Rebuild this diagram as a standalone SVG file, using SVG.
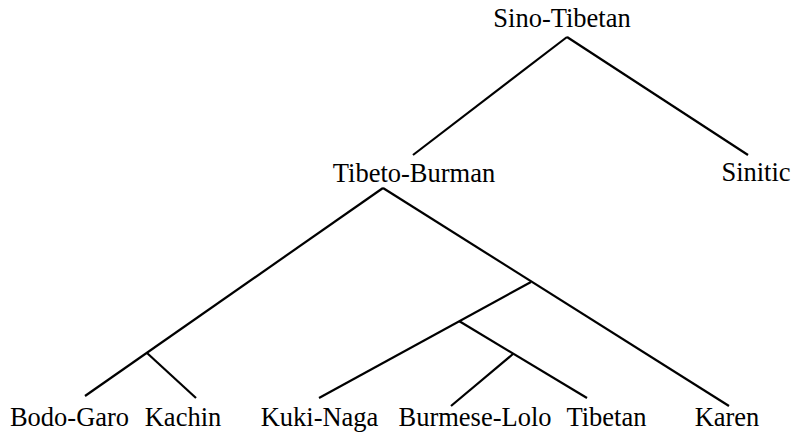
<svg xmlns="http://www.w3.org/2000/svg" width="794" height="434" viewBox="0 0 794 434">
<style>
text{font-family:"Liberation Serif","Times New Roman",serif;font-size:26.5px;fill:#000;text-anchor:middle}
.e{stroke:#000;stroke-width:2.2;fill:none;stroke-linecap:butt}
</style>
<rect width="794" height="434" fill="#fff"/>
<g id="connectors">
<line class="e" x1="567" y1="37" x2="413" y2="155"/>
<line class="e" x1="567" y1="37" x2="748" y2="155"/>
<line class="e" x1="383" y1="188" x2="85" y2="396"/>
<line class="e" x1="383" y1="188" x2="729" y2="406"/>
<line class="e" x1="147" y1="353" x2="196" y2="398"/>
<line class="e" x1="531" y1="282" x2="319" y2="398"/>
<line class="e" x1="459" y1="321" x2="587" y2="398"/>
<line class="e" x1="513" y1="354" x2="451" y2="406"/>
</g>
<g id="sino-tibetan"><text x="562" y="27">Sino-Tibetan</text></g>
<g id="tibeto-burman"><text x="414" y="182">Tibeto-Burman</text></g>
<g id="sinitic"><text x="756" y="181">Sinitic</text></g>
<g id="bodo-garo"><text x="69.5" y="426">Bodo-Garo</text></g>
<g id="kachin"><text x="183" y="426">Kachin</text></g>
<g id="kuki-naga"><text x="319.5" y="426">Kuki-Naga</text></g>
<g id="burmese-lolo"><text x="475" y="426">Burmese-Lolo</text></g>
<g id="tibetan"><text x="606.5" y="426">Tibetan</text></g>
<g id="karen"><text x="727" y="426">Karen</text></g>
</svg>
